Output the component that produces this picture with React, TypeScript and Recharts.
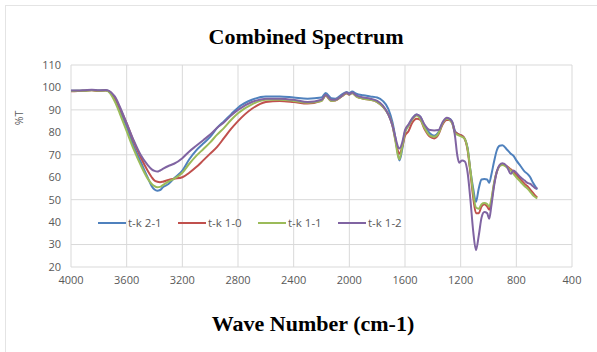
import { LineChart, Line, XAxis, YAxis, CartesianGrid, Legend } from 'recharts';

const waveNumbers = [
  4000, 3950, 3900, 3850, 3800, 3750, 3720, 3700, 3680, 3650, 3600, 3550, 3500, 3450, 3420, 3400, 3380, 3360, 3340,
  3300, 3260, 3200, 3150, 3100, 3050, 3000, 2950, 2900, 2850, 2800, 2700, 2600, 2500, 2400, 2300, 2200, 2170, 2130,
  2100, 2050, 2020, 2000, 1980, 1950, 1900, 1850, 1800, 1760, 1720, 1690, 1670, 1650, 1640, 1620, 1600, 1575, 1550,
  1515, 1490, 1460, 1420, 1390, 1360, 1330, 1300, 1280, 1260, 1240, 1225, 1210, 1190, 1170, 1150, 1130, 1110, 1090,
  1070, 1050, 1030, 1010, 995, 980, 960, 940, 920, 900, 870, 840, 820, 800, 770, 740, 720, 700, 680, 660, 650,
];

const tk21 = [
  98.5, 98.5, 98.6, 98.9, 98.6, 98.8, 98, 96.5, 94.5, 90, 82.5, 74, 67, 60, 56, 54.5, 54, 54.3, 55.5,
  57, 59.5, 63, 68, 72, 75, 78, 82, 85, 88, 91, 94.5, 96, 96, 95.5, 95, 95.5, 97.5, 95.2,
  95, 97, 98, 97.5, 98.2, 97.2, 96.5, 96, 95.5, 94, 90.5, 84.5, 78, 70, 67.5, 72.5, 80, 83, 86,
  88, 87, 83, 79.5, 78.5, 80, 84, 86, 86, 84.5, 80.5, 79.5, 79, 78.5, 77, 73, 63, 55, 49,
  55, 59, 59.2, 59, 57.5, 61, 67, 72, 74, 74.2, 72.5, 70.5, 69.5, 67.5, 65, 62.5, 61.5, 60, 57.5, 55.5, 54.5,
];

const tk10 = [
  98.3, 98.4, 98.5, 98.7, 98.4, 98.6, 98, 96.8, 95, 91, 84, 76, 69, 63, 60, 58.5, 58, 57.8, 58,
  58.8, 59.3, 60, 62, 64.5, 67.5, 70.5, 73.5, 77.5, 81.5, 85, 90.5, 93.5, 94, 93.5, 92.8, 94, 96.3, 94,
  94.2, 96.2, 97.3, 96.8, 97.5, 96, 95, 94.5, 93.5, 91.5, 88, 83, 77, 71.5, 70.5, 73.5, 78.5, 80.5, 84,
  86, 85.5, 81.5, 78, 77.3, 79, 83.5, 85.5, 85.5, 84, 80, 79.5, 79, 78.5, 77, 72, 62, 51, 44,
  44, 47, 48, 47, 45.5, 49, 57, 62.5, 65, 65.8, 65, 63.5, 62.5, 61, 59, 57, 56, 54.5, 53, 51.5, 51,
];

const tk11 = [
  98.4, 98.5, 98.5, 98.8, 98.5, 98.6, 97.5, 95.5, 93, 88.5, 80.5, 72.5, 65.5, 59.5, 57, 56, 55.5, 55.7, 56.5,
  58, 59.3, 62, 66, 69.5, 72.5, 75.5, 79, 82, 85.5, 88.5, 92.5, 94.5, 94.5, 94, 93.2, 94, 96.5, 94,
  94.3, 96.3, 97.5, 96.8, 97.5, 96, 95, 94.5, 93.5, 91.5, 88, 83, 76.5, 69.5, 68, 73.5, 80, 83, 85.5,
  87.5, 86, 82, 78.5, 78, 79.5, 84, 86, 85.5, 84, 79.5, 79, 78.5, 78, 77, 72.5, 63, 53, 46.5,
  46, 48, 48.5, 48, 47, 50, 57.5, 62.5, 65, 65.5, 64.5, 63, 61.5, 60, 58, 56, 55, 53.5, 52, 51, 50.5,
];

const tk12 = [
  98.6, 98.6, 98.8, 99, 98.7, 98.9, 98.2, 97, 95.5, 91.5, 84, 76.5, 70, 65.5, 63.5, 62.8, 62.5, 63, 63.7,
  65, 66, 68.5, 71.5, 74, 76.5, 79, 82, 84.5, 87.5, 90, 93.5, 95, 95, 94.5, 93.5, 94.5, 96.8, 94.5,
  94.5, 96.5, 97.8, 97, 97.8, 96.5, 95.5, 95, 94, 92, 88, 83, 78, 73.5, 72.8, 75.5, 81, 83.5, 86,
  88, 87, 83.5, 81, 80.8, 81, 84.5, 86.5, 86, 84.5, 78, 70, 66.5, 67.5, 67, 62, 50, 36, 27.5,
  34, 42, 44.5, 44, 41.5, 47, 56, 62.5, 65.5, 66.2, 65, 61.5, 63, 62, 60, 58.5, 57.5, 57, 56, 55, 55.5,
];

const xTicks = [4000, 3600, 3200, 2800, 2400, 2000, 1600, 1200, 800, 400];
const yTicks = [20, 30, 40, 50, 60, 70, 80, 90, 100, 110];

const series = [
  { key: 'tk21', name: 't-k 2-1', color: '#4F81BD' },
  { key: 'tk10', name: 't-k 1-0', color: '#C0504D' },
  { key: 'tk11', name: 't-k 1-1', color: '#9BBB59' },
  { key: 'tk12', name: 't-k 1-2', color: '#8064A2' },
];

const data = waveNumbers.map((w, i) => ({
  w,
  tk21: tk21[i],
  tk10: tk10[i],
  tk11: tk11[i],
  tk12: tk12[i],
}));

const tickStyle = { fontSize: 11, fill: '#595959', fontFamily: 'Open Sans, sans-serif' };

function LegendContent() {
  return (
    <div style={{ display: 'flex', fontSize: 11.5, color: '#595959', fontFamily: 'Open Sans, sans-serif' }}>
      {series.map((s) => (
        <div key={s.key} style={{ display: 'flex', alignItems: 'center', width: 80 }}>
          <svg width={30} height={10}>
            <line x1={0} y1={5} x2={28} y2={5} stroke={s.color} strokeWidth={2} />
          </svg>
          <span>{s.name}</span>
        </div>
      ))}
    </div>
  );
}

export default function App() {
  return (
    <div style={{ position: 'absolute', left: 0, top: 0, width: 597, height: 352, background: '#fff' }}>
      <div
        style={{
          position: 'absolute',
          left: 5,
          top: 5,
          right: 0,
          bottom: 0,
          borderLeft: '1px solid #e4e4e4',
          borderTop: '1px solid #e4e4e4',
        }}
      />
      <div
        style={{
          position: 'absolute',
          top: 24,
          left: 0,
          width: 612,
          textAlign: 'center',
          fontFamily: 'Liberation Serif, serif',
          fontWeight: 'bold',
          fontSize: 22,
        }}
      >
        Combined Spectrum
      </div>
      <div
        style={{
          position: 'absolute',
          left: 12,
          top: 111,
          fontSize: 10.5,
          color: '#595959',
          fontFamily: 'Open Sans, sans-serif',
          transform: 'rotate(-90deg)',
        }}
      >
        %T
      </div>
      <LineChart width={597} height={352} data={data} margin={{ top: 65, right: 25, bottom: 65, left: 0 }}>
        <CartesianGrid stroke="#d9d9d9" />
        <XAxis
          dataKey="w"
          type="number"
          domain={[400, 4000]}
          ticks={xTicks}
          reversed
          tickLine={false}
          axisLine={false}
          tick={tickStyle}
          tickMargin={3}
          height={20}
        />
        <YAxis
          type="number"
          domain={[20, 110]}
          ticks={yTicks}
          tickLine={false}
          axisLine={false}
          tick={tickStyle}
          tickMargin={4}
          width={71}
        />
        <Legend
          layout="horizontal"
          verticalAlign="middle"
          align="center"
          content={<LegendContent />}
          wrapperStyle={{ position: 'absolute', left: 98, top: 215, width: 340, height: 14 }}
        />
        {series.map((s) => (
          <Line
            key={s.key}
            type="monotone"
            dataKey={s.key}
            name={s.name}
            stroke={s.color}
            strokeWidth={2}
            dot={false}
            isAnimationActive={false}
          />
        ))}
      </LineChart>
      <div
        style={{
          position: 'absolute',
          top: 311,
          left: 0,
          width: 626,
          textAlign: 'center',
          fontFamily: 'Liberation Serif, serif',
          fontWeight: 'bold',
          fontSize: 22,
        }}
      >
        Wave Number (cm-1)
      </div>
    </div>
  );
}
